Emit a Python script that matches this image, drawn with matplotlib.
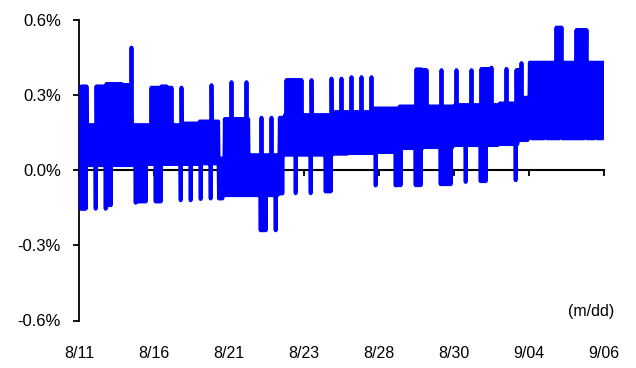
import numpy as np
import matplotlib.pyplot as plt
from matplotlib.ticker import FuncFormatter

plt.rcParams['font.family'] = ['Liberation Sans', 'DejaVu Sans']

# the chart is read in 105 narrow columns (5 px each).
# body of the band: from column seg_start[k] on, the line swings
# between seg_low[k] and seg_high[k] (in %)
seg_start = [0, 11, 21, 24, 28, 29, 34, 40, 41, 51, 54, 59, 64, 69, 75, 84, 88, 90]
seg_low = [0.02, 0.025, 0.025, 0.027, -0.113, -0.10, -0.10, -0.093, 0.062,
           0.066, 0.069, 0.073, 0.088, 0.092, 0.10, 0.104, 0.12, 0.127]
seg_high = [0.18, 0.18, 0.187, 0.195, 0.047, 0.205, 0.06, 0.21, 0.22,
            0.232, 0.232, 0.247, 0.255, 0.255, 0.26, 0.267, 0.29, 0.43]

# upward spikes: column -> peak value
spike_cols = [0, 1, 3, 4, 5, 6, 7, 8, 9, 10, 14, 15, 16, 17, 18, 20, 26, 30, 33,
              36, 38, 41, 42, 43, 44, 46, 50, 52, 54, 56, 58, 67, 68, 69, 72, 75,
              78, 80, 81, 82, 85, 87, 88, 95, 96, 99, 100, 101]
spike_vals = [0.335, 0.335, 0.335, 0.335, 0.345, 0.345, 0.345, 0.345, 0.34, 0.49,
              0.33, 0.33, 0.335, 0.335, 0.33, 0.33, 0.34, 0.352, 0.352,
              0.21, 0.21, 0.36, 0.36, 0.36, 0.36, 0.36, 0.366, 0.366, 0.372, 0.372,
              0.372, 0.403, 0.403, 0.40, 0.40, 0.40, 0.40, 0.405, 0.405, 0.41,
              0.405, 0.40, 0.428, 0.57, 0.57, 0.56, 0.56, 0.56]

# downward dips: column -> trough value
dip_cols = [0, 1, 3, 5, 6, 11, 12, 13, 15, 16, 20, 22, 24, 26, 36, 37, 39, 43,
            46, 49, 50, 59, 63, 64, 67, 68, 72, 73, 74, 77, 80, 81, 87]
dip_vals = [-0.154, -0.154, -0.154, -0.154, -0.14, -0.13, -0.125, -0.125, -0.125,
            -0.125, -0.12, -0.12, -0.115, -0.113, -0.24, -0.24, -0.24, -0.092,
            -0.092, -0.085, -0.085, -0.061, -0.061, -0.06, -0.06, -0.06, -0.056,
            -0.056, -0.056, -0.047, -0.044, -0.044, -0.04]

# short stretches after 9/04 where the line stays high
gap_cols = [90, 93, 96, 101, 103]
gap_low = 0.28

last_value = 0.27
n_cols = 105
date_labels = ['8/11', '8/16', '8/21', '8/23', '8/28', '8/30', '9/04', '9/06']

# build the line: three swings low->high per column
swings = 3
col_low = np.zeros(n_cols)
col_high = np.zeros(n_cols)
for k, start in enumerate(seg_start):
    col_low[start:] = seg_low[k]
    col_high[start:] = seg_high[k]

lows = np.repeat(col_low[:, None], swings, axis=1)
highs = np.repeat(col_high[:, None], swings, axis=1)
for c, v in zip(spike_cols, spike_vals):
    highs[c, 1] = v
    # neighbouring spikes merge into one block
    if c + 1 in spike_cols:
        v2 = min(v, spike_vals[spike_cols.index(c + 1)])
        highs[c, 2] = v2
        highs[c + 1, 0] = v2
for c, v in zip(dip_cols, dip_vals):
    lows[c, 1] = v
    if c + 1 in dip_cols:
        v2 = max(v, dip_vals[dip_cols.index(c + 1)])
        lows[c, 2] = v2
        lows[c + 1, 0] = v2
for c in gap_cols:
    lows[c, 1] = gap_low

series = np.empty(2 * n_cols * swings)
series[0::2] = lows.ravel()
series[1::2] = highs.ravel()
series = np.append(series, last_value)
x = np.arange(len(series))
tick_pos = np.linspace(0, len(series) - 1, len(date_labels))

fig = plt.figure(figsize=(6.36, 3.68), dpi=100)
ax = fig.add_axes([79 / 636, 1 - 320.5 / 368, 525 / 636, 300.5 / 368])

ax.plot(x, series, color='#0000ff', lw=2.8, solid_joinstyle='round',
        solid_capstyle='round', zorder=3)

ax.set_xlim(tick_pos[0], tick_pos[-1])
ax.set_ylim(-0.6, 0.6)
ax.set_yticks([-0.6, -0.3, 0.0, 0.3, 0.6])
ax.yaxis.set_major_formatter(FuncFormatter(lambda v, p: '%.1f%%' % v))

for s in ['top', 'right']:
    ax.spines[s].set_visible(False)
ax.spines['left'].set_linewidth(1.3)
ax.spines['bottom'].set_position(('data', 0))
ax.spines['bottom'].set_linewidth(1.5)
ax.spines['left'].set_zorder(2)
ax.spines['bottom'].set_zorder(2)

ax.set_xticks(tick_pos)
ax.tick_params(axis='x', direction='out', length=4, width=1.3, labelbottom=False)
ax.tick_params(axis='y', direction='out', length=4, width=1.3, labelsize=12, pad=9)

sec = ax.secondary_xaxis(0)
sec.set_xticks(tick_pos)
sec.set_xticklabels(date_labels)
sec.spines['bottom'].set_visible(False)
sec.tick_params(axis='x', length=0, labelsize=11.5, pad=18)

ax.text(1.02, 0.03, '(m/dd)', transform=ax.transAxes, ha='right', va='center',
        fontsize=11.5)

fig.savefig('out.png', dpi=100)
